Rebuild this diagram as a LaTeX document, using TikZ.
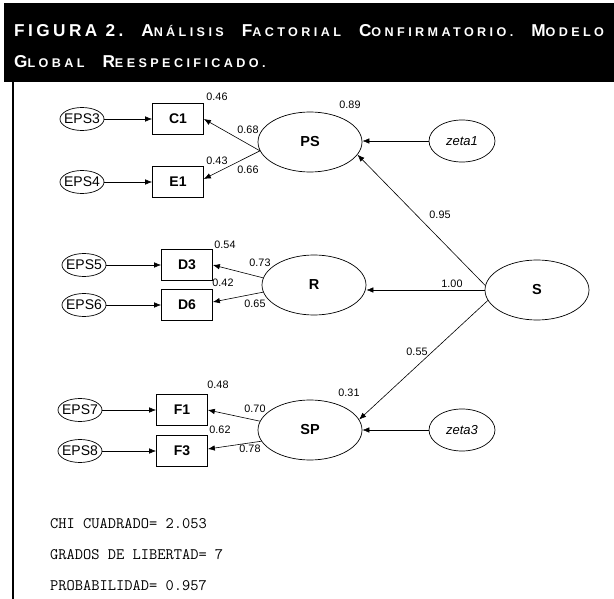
\documentclass[tikz,border=0pt]{standalone}
\usepackage{fontspec}
\setmainfont{Liberation Sans}
\newfontfamily\hbigf[LetterSpace=20]{Liberation Sans}
\newfontfamily\hsmallf[LetterSpace=27]{Liberation Sans}
\newcommand\HB[1]{{\hbigf\bfseries\fontsize{17.2}{20}\selectfont #1}}
\newcommand\HS[1]{{\hsmallf\bfseries\fontsize{12.6}{15}\selectfont #1}}
\newcommand\ZW[1]{\makebox[0pt]{#1}}
\newcommand\WS{\hspace{18pt}}
\usetikzlibrary{shapes.geometric,arrows.meta,calc}
\tikzset{
  obs/.style={draw, rectangle, minimum width=51pt, minimum height=31pt, inner sep=0pt, line width=0.7pt, font=\fontsize{14}{14}\selectfont\bfseries},
  eps/.style={draw, ellipse, minimum width=44pt, minimum height=23pt, inner sep=0pt, line width=0.7pt, font=\fontsize{14}{14}\selectfont},
  lat/.style={draw, ellipse, minimum width=104pt, minimum height=60pt, inner sep=0pt, line width=0.7pt, font=\fontsize{14.5}{15}\selectfont\bfseries},
  zet/.style={draw, ellipse, minimum width=66pt, minimum height=42pt, inner sep=0pt, line width=0.7pt, font=\fontsize{13}{13}\selectfont\itshape},
  coef/.style={inner sep=0pt, font=\fontsize{10.8}{11}\selectfont},
  foot/.style={anchor=west, inner sep=0pt, font=\ttfamily\fontsize{16}{16}\selectfont\addfontfeature{LetterSpace=4}},
  head/.style={anchor=base west, inner sep=0pt, text=white},
  arr/.style={-{Latex[length=7pt,width=5.5pt]}, line width=0.6pt},
}
\begin{document}
\begin{tikzpicture}[x=1pt,y=-1pt]
\useasboundingbox (0,0) rectangle (614,599);
\fill[white] (0,0) rectangle (614,599);
\fill[black] (4,3) rectangle (614,82);
\draw[line width=2pt] (13,82) -- (13,599);
% header
\node[head] (h1) at (14,37) {\HB{FIGURA 2.}\WS\HB{A}\HS{NÁLISIS}\WS\HB{F}\HS{ACTORIAL}\WS\HB{C}\HS{ONFIRMATORIO.}\WS\HB{M}\HS{ODELO}};
\node[head] (h2) at (14,68) {\HB{G}\HS{LOBAL}\WS\HB{R}\HS{EESPECIFICADO.}};
% nodes
\node[eps] (e3) at (82,119) {\ZW{EPS3}};
\node[obs] (c1) at (178,119) {C1};
\node[eps] (e4) at (82,182) {\ZW{EPS4}};
\node[obs] (e1) at (178,182) {E1};
\node[lat] (ps) at (310,142) {PS};
\node[zet] (z1) at (462,141) {zeta1};
\node[eps] (e5) at (84,265) {\ZW{EPS5}};
\node[obs] (d3) at (187,265) {D3};
\node[eps] (e6) at (84,305) {\ZW{EPS6}};
\node[obs] (d6) at (187,305) {D6};
\node[lat] (r) at (314,285) {R};
\node[lat] (s) at (537,290) {S};
\node[eps] (e7) at (80,410) {\ZW{EPS7}};
\node[obs] (f1) at (182,410) {F1};
\node[eps] (e8) at (80,451) {\ZW{EPS8}};
\node[obs] (f3) at (182,451) {F3};
\node[lat] (sp) at (310,430) {SP};
\node[zet] (z3) at (462,430) {zeta3};
% arrows
\draw[arr] (e3.east) -- (c1.west);
\draw[arr] (e4.east) -- (e1.west);
\draw[arr] (e5.east) -- (d3.west);
\draw[arr] (e6.east) -- (d6.west);
\draw[arr] (e7.east) -- (f1.west);
\draw[arr] (e8.east) -- (f3.west);
\draw[arr] (ps.190) -- (c1.east);
\draw[arr] (ps.190) -- ([yshift=3pt]e1.east);
\draw[arr] (r.172) -- (d3.east);
\draw[arr] (r.188) -- ([yshift=3pt]d6.east);
\draw[arr] (sp.170) -- (f1.east);
\draw[arr] (sp.193) -- ([yshift=2pt]f3.east);
\draw[arr] (s.175) -- (ps.-15);
\draw[arr] (s.west) -- (s.west -| r.east);
\draw[arr] (s.192) -- (sp.12);
\draw[arr] (z1.west) -- (z1.west -| ps.east);
\draw[arr] (z3.west) -- (z3.west -| sp.east);
% coefficients
\node[coef] (l046) at (217,97) {0.46};
\node[coef] (l089) at (350,105) {0.89};
\node[coef] (l068) at (248,130) {0.68};
\node[coef] (l043) at (217,161) {0.43};
\node[coef] (l066) at (248,170) {0.66};
\node[coef] (l095) at (440,215) {0.95};
\node[coef] (l054) at (225,245) {0.54};
\node[coef] (l073) at (260,263) {0.73};
\node[coef] (l042) at (223,283) {0.42};
\node[coef] (l065) at (255,304) {0.65};
\node[coef] (l100) at (452,284) {1.00};
\node[coef] (l055) at (417,352) {0.55};
\node[coef] (l048) at (218,385) {0.48};
\node[coef] (l070) at (255,409) {0.70};
\node[coef] (l062) at (220,430) {0.62};
\node[coef] (l078) at (250,449) {0.78};
\node[coef] (l031) at (349,393) {0.31};
% footer
\node[foot] (t1) at (50,524) {CHI CUADRADO= 2.053};
\node[foot] (t2) at (50,555) {GRADOS DE LIBERTAD= 7};
\node[foot] (t3) at (50,586) {PROBABILIDAD= 0.957};
\end{tikzpicture}
\end{document}
